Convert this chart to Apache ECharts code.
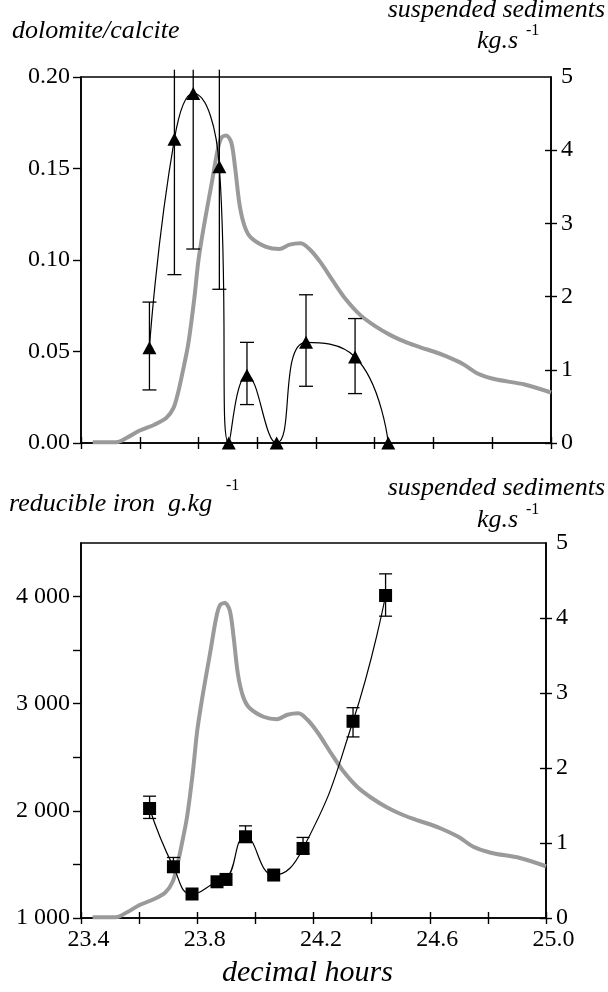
<!DOCTYPE html>
<html><head><meta charset="utf-8">
<script src="https://cdn.jsdelivr.net/npm/echarts@6/dist/echarts.min.js"></script>
<style>html,body{margin:0;padding:0;background:#fff}#c{width:608px;height:992px}</style>
</head><body><div id="c"></div>
<script>
// ---- data ----
const sedHours = [23.44, 23.52, 23.56, 23.60, 23.65, 23.69, 23.715, 23.73, 23.745, 23.765, 23.785, 23.80, 23.82, 23.845, 23.865, 23.878, 23.895, 23.912, 23.925, 23.94, 23.958, 23.98, 24.03, 24.075, 24.11, 24.148, 24.18, 24.215, 24.26, 24.30, 24.35, 24.40, 24.455, 24.51, 24.56, 24.60, 24.64, 24.70, 24.75, 24.81, 24.91, 25.0];
const sedValues = [0.01, 0.01, 0.08, 0.17, 0.25, 0.34, 0.48, 0.68, 0.95, 1.35, 1.95, 2.5, 3.0, 3.55, 4.0, 4.17, 4.2, 4.1, 3.75, 3.25, 2.95, 2.8, 2.68, 2.65, 2.71, 2.73, 2.64, 2.47, 2.2, 1.97, 1.75, 1.6, 1.47, 1.37, 1.30, 1.25, 1.19, 1.08, 0.95, 0.87, 0.80, 0.69];

const dolHours = [23.633, 23.718, 23.782, 23.871, 23.903, 23.965, 24.066, 24.166, 24.333, 24.446];
const dolRatio = [0.052, 0.166, 0.191, 0.151, 0, 0.037, 0, 0.055, 0.047, 0];
const dolLow   = [0.029, 0.092, 0.106, 0.084, null, 0.021, null, 0.031, 0.027, null];
const dolHigh  = [0.077, 0.204, 0.204, 0.204, null, 0.055, null, 0.081, 0.068, null];

const ironHours  = [23.636, 23.718, 23.782, 23.868, 23.899, 23.966, 24.063, 24.164, 24.336, 24.448];
const ironValues = [2022, 1478, 1224, 1338, 1360, 1758, 1401, 1649, 2836, 4010];
const ironLow    = [1929, 1430, null, null, null, 1712, null, 1600, 2690, 3817];
const ironHigh   = [2137, 1565, null, null, null, 1860, null, 1752, 2963, 4212];

const hourTickLabels = ['23.4', '23.8', '24.2', '24.6', '25.0'];
const ironTickLabels = ['1 000', '2 000', '3 000', '4 000'];
const ironTickValues = [1000, 1500, 2000, 2500, 3000, 3500, 4000];
const sedTickValues = [0, 1, 2, 3, 4];

// ---- build ----
const pairs = (xs, ys) => xs.map((x, i) => [x, ys[i]]);
const errData = (xs, lo, hi) => xs.map((x, i) => [x, lo[i], hi[i]]).filter(d => d[1] !== null);

const FONT = "'Liberation Serif', 'Times New Roman', serif";
const numLabel = { fontFamily: FONT, fontSize: 24, color: '#000' };

function errRender(capHalf) {
  return function (params, api) {
    const x = api.value(0);
    const pLo = api.coord([x, api.value(1)]);
    const pHi = api.coord([x, api.value(2)]);
    const top = params.coordSys.y;
    const st = { stroke: '#000', lineWidth: 1.3 };
    const ch = [
      { type: 'line', shape: { x1: pLo[0], y1: pLo[1], x2: pHi[0], y2: pHi[1] }, style: st },
      { type: 'line', shape: { x1: pLo[0] - capHalf, y1: pLo[1], x2: pLo[0] + capHalf, y2: pLo[1] }, style: st }
    ];
    if (pHi[1] >= top - 0.5) {
      ch.push({ type: 'line', shape: { x1: pHi[0] - capHalf, y1: pHi[1], x2: pHi[0] + capHalf, y2: pHi[1] }, style: st });
    }
    return { type: 'group', children: ch };
  };
}

const xLabelFmt = v => {
  const s = v.toFixed(1);
  return hourTickLabels.indexOf(s) >= 0 ? s : '';
};
const ironFmt = v => {
  const i = ironTickLabels.findIndex(t => Number(t.replace(/\s/g, '')) === v);
  return i >= 0 ? ironTickLabels[i] : '';
};

const axisLine = { show: true, lineStyle: { color: '#000', width: 1.6 } };
const tickOut = (len, vals) => Object.assign({ show: true, inside: false, length: len, lineStyle: { color: '#000', width: 1.4 } }, vals ? { customValues: vals } : {});
const tickIn = (len, vals) => Object.assign({ show: true, inside: true, length: len, lineStyle: { color: '#000', width: 1.4 } }, vals ? { customValues: vals } : {});

function xAx(grid, opts) {
  return Object.assign({
    type: 'value', gridIndex: grid, min: 23.4, max: 25.0, interval: 0.2,
    axisLine: axisLine, splitLine: { show: false }, axisLabel: { show: false }
  }, opts);
}

const gTop = { left: 81, top: 77, width: 470, height: 366 };
const gBot = { left: 81, top: 543, width: 465, height: 375 };
const TITLE = "italic 26px " + FONT;

const option = {
  animation: false,
  backgroundColor: '#fff',
  grid: [
    Object.assign({ show: true, borderColor: '#000', borderWidth: 1.6, backgroundColor: 'transparent' }, gTop),
    Object.assign({}, gTop),
    Object.assign({ show: true, borderColor: '#000', borderWidth: 1.6, backgroundColor: 'transparent' }, gBot),
    Object.assign({}, gBot)
  ],
  xAxis: [
    xAx(0, { axisTick: tickOut(6) }),
    xAx(1, { axisTick: tickIn(6), axisLine: { show: false } }),
    xAx(2, { axisTick: tickOut(6), axisLabel: Object.assign({ show: true, margin: 10, formatter: xLabelFmt, padding: [0, 0, 0, 15] }, numLabel) }),
    xAx(3, { axisTick: tickIn(6), axisLine: { show: false } })
  ],
  yAxis: [
    { type: 'value', gridIndex: 0, position: 'left', min: 0, max: 0.2, interval: 0.05,
      axisLine: axisLine, axisTick: tickOut(8), splitLine: { show: false },
      axisLabel: Object.assign({ margin: 11, formatter: v => v.toFixed(2) }, numLabel) },
    { type: 'value', gridIndex: 0, position: 'right', min: 0, max: 5, interval: 1,
      axisLine: axisLine, axisTick: tickOut(6, sedTickValues), splitLine: { show: false },
      axisLabel: Object.assign({ margin: 10 }, numLabel) },
    { type: 'value', gridIndex: 1, position: 'right', min: 0, max: 5, interval: 1,
      axisLine: { show: false }, axisTick: tickIn(6, sedTickValues), splitLine: { show: false }, axisLabel: { show: false } },
    { type: 'value', gridIndex: 2, position: 'left', min: 1000, max: 4500, interval: 500,
      axisLine: axisLine, axisTick: tickOut(8, ironTickValues), splitLine: { show: false },
      axisLabel: Object.assign({ margin: 11, formatter: ironFmt }, numLabel) },
    { type: 'value', gridIndex: 2, position: 'right', min: 0, max: 5, interval: 1,
      axisLine: axisLine, axisTick: tickOut(6, sedTickValues), splitLine: { show: false },
      axisLabel: Object.assign({ margin: 10 }, numLabel) },
    { type: 'value', gridIndex: 3, position: 'right', min: 0, max: 5, interval: 1,
      axisLine: { show: false }, axisTick: tickIn(6, sedTickValues), splitLine: { show: false }, axisLabel: { show: false } }
  ],
  series: [
    { type: 'line', xAxisIndex: 0, yAxisIndex: 1, data: pairs(sedHours, sedValues), smooth: 0.3,
      symbol: 'none', lineStyle: { color: '#9a9a9a', width: 4 }, z: 1 },
    { type: 'line', xAxisIndex: 0, yAxisIndex: 0, data: pairs(dolHours, dolRatio), smooth: 0.5,
      symbol: 'triangle', symbolSize: [14, 13], itemStyle: { color: '#000' },
      lineStyle: { color: '#000', width: 1.2 }, z: 3 },
    { type: 'custom', xAxisIndex: 0, yAxisIndex: 0, data: errData(dolHours, dolLow, dolHigh),
      renderItem: errRender(7), clip: false, z: 4 },
    { type: 'line', xAxisIndex: 2, yAxisIndex: 4, data: pairs(sedHours, sedValues), smooth: 0.3,
      symbol: 'none', lineStyle: { color: '#9a9a9a', width: 4 }, z: 1 },
    { type: 'line', xAxisIndex: 2, yAxisIndex: 3, data: pairs(ironHours, ironValues), smooth: 0.5,
      symbol: 'rect', symbolSize: 13, itemStyle: { color: '#000' },
      lineStyle: { color: '#000', width: 1.2 }, z: 3 },
    { type: 'custom', xAxisIndex: 2, yAxisIndex: 3, data: errData(ironHours, ironLow, ironHigh),
      renderItem: errRender(6.5), clip: false, z: 4 }
  ],
  graphic: [
    { type: 'text', left: 12, top: 18, style: { text: 'dolomite/calcite', font: TITLE, fill: '#000' } },
    { type: 'text', right: 3, top: -3, style: { text: 'suspended sediments', font: TITLE, fill: '#000' } },
    { type: 'text', left: 477, top: 28, style: { text: 'kg.s', font: TITLE, fill: '#000' } },
    { type: 'text', left: 526, top: 23, style: { text: '-1', font: "16px " + FONT, fill: '#000' } },
    { type: 'text', left: 9, top: 491, style: { text: 'reducible iron  g.kg', font: TITLE, fill: '#000' } },
    { type: 'text', left: 226, top: 478, style: { text: '-1', font: "16px " + FONT, fill: '#000' } },
    { type: 'text', right: 3, top: 475, style: { text: 'suspended sediments', font: TITLE, fill: '#000' } },
    { type: 'text', left: 477, top: 507, style: { text: 'kg.s', font: TITLE, fill: '#000' } },
    { type: 'text', left: 526, top: 502, style: { text: '-1', font: "16px " + FONT, fill: '#000' } },
    { type: 'text', left: 222, top: 958, style: { text: 'decimal hours', font: "italic 30px " + FONT, fill: '#000' } }
  ]
};

const chart = echarts.init(document.getElementById('c'), null, { renderer: 'canvas' });
chart.setOption(option);
</script>
</body></html>
